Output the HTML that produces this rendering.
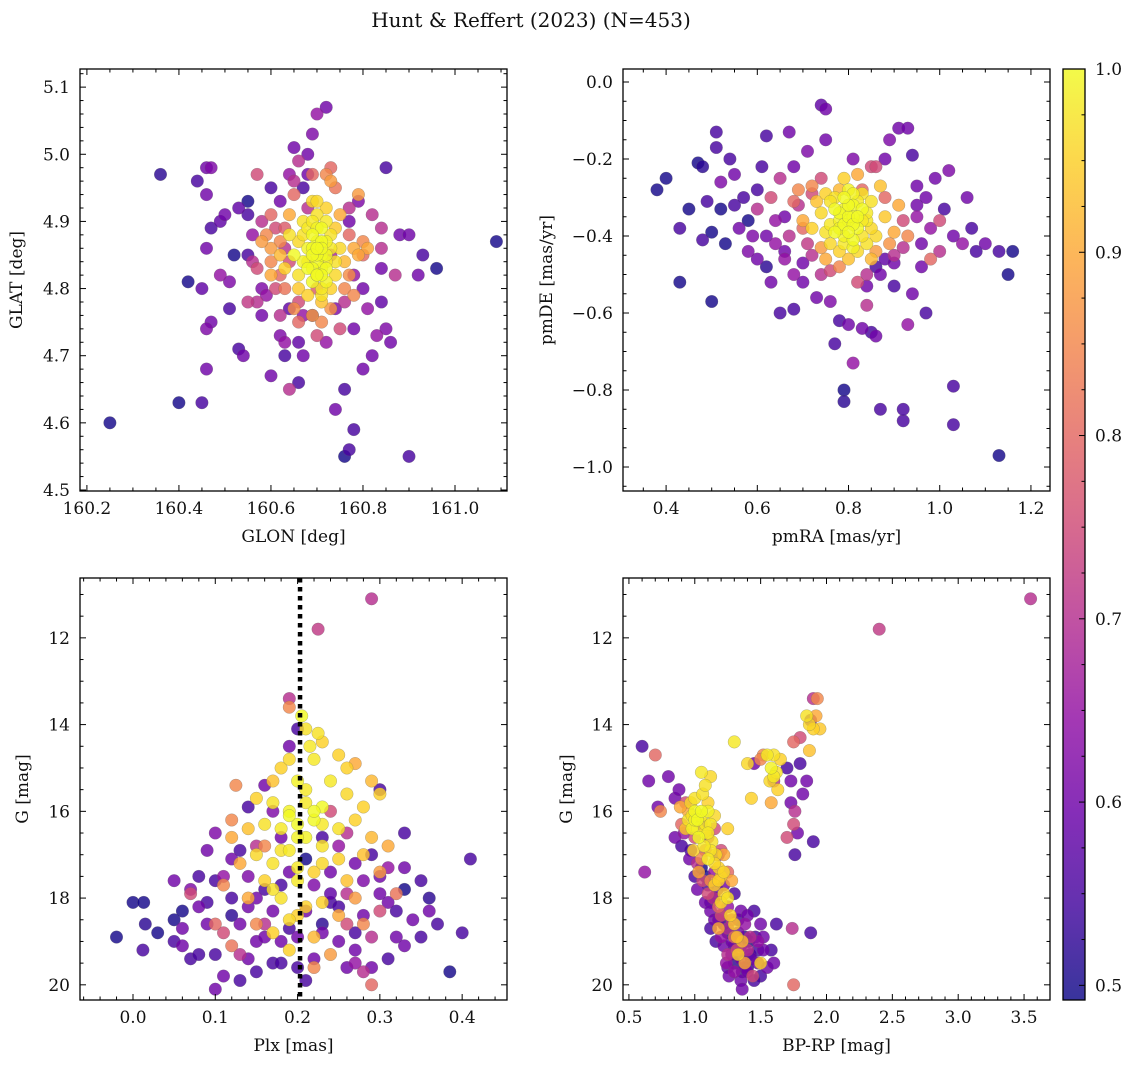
<!DOCTYPE html>
<html><head><meta charset="utf-8"><style>
body{margin:0;background:#fff;}
svg text{font-family:"DejaVu Serif","Liberation Serif",serif;fill:#111;}
</style></head><body>
<svg id="fig" width="1136" height="1068" xmlns="http://www.w3.org/2000/svg">
<text x="531" y="27" font-size="20" text-anchor="middle">Hunt &amp; Reffert (2023) (N=453)</text>
</svg>
<script>
// ---- data: panel 1 (GLON, GLAT, membership prob)
const glon = [160.25,160.36,160.40,160.42,160.44,160.45,160.46,160.47,160.46,160.47,160.46,160.46,160.47,160.46,160.45,160.49,160.49,160.50,160.51,160.52,160.53,160.54,160.55,160.55,160.57,160.57,160.56,160.58,160.59,160.60,160.60,160.61,160.62,160.62,160.63,160.64,160.64,160.64,160.65,160.66,160.67,160.68,160.69,160.70,160.72,160.69,160.72,160.73,160.70,160.69,160.72,160.74,160.76,160.77,160.76,160.78,160.80,160.78,160.80,160.81,160.80,160.82,160.83,160.84,160.85,160.86,160.85,160.84,160.84,160.87,160.88,160.90,160.90,160.92,160.93,160.96,161.09,160.79,160.77,160.79,160.78,160.76,160.53,160.58,160.58,160.55,160.62,160.63,160.66,160.67,160.74,160.73,160.63,160.61,160.60,160.62,160.68,160.66,160.55,160.51,160.70,160.66,
160.70,160.71,160.69,160.68,160.72,160.70,160.73,160.67,160.69,160.71,160.66,160.74,160.68,160.71,160.70,160.72,160.69,160.66,160.64,160.65,160.75,160.76,160.73,160.68,160.71,160.66,160.63,160.74,160.70,160.72,160.67,160.64,160.78,160.62,160.69,160.73,160.76,160.60,160.75,160.65,160.71,160.69,160.72,
160.58,160.60,160.63,160.79,160.80,160.77,160.65,160.74,160.71,160.66,160.77,160.63,
160.70,160.71,160.69,160.72,160.70,160.68,160.73,160.71,160.69,160.70,160.72,160.68,160.71,160.74,160.67,160.70,160.69,160.72,160.71,160.70,
160.60,160.57,160.62,160.78,160.82,160.81,160.65,160.75,160.73,160.67,160.59,160.64,160.77,160.68,160.56,160.84];
const glat = [4.60,4.97,4.63,4.81,4.96,4.63,4.98,4.98,4.94,4.89,4.86,4.74,4.75,4.68,4.80,4.82,4.90,4.91,4.77,4.85,4.71,4.70,4.91,4.93,4.78,4.97,4.84,4.76,4.88,4.82,4.67,4.80,4.93,4.73,4.72,4.77,4.65,4.97,5.01,4.99,4.95,5.00,5.03,5.06,5.07,4.97,4.97,4.96,4.73,4.76,4.72,4.62,4.65,4.56,4.55,4.59,4.68,4.74,4.80,4.86,4.85,4.70,4.73,4.78,4.74,4.72,4.98,4.89,4.83,4.82,4.88,4.88,4.55,4.82,4.85,4.83,4.87,4.93,4.90,4.94,4.82,4.78,4.92,4.90,4.80,4.78,4.82,4.70,4.66,4.76,4.77,4.85,4.86,4.89,4.95,4.87,4.92,4.72,4.85,4.81,4.80,4.78,
4.84,4.85,4.83,4.86,4.83,4.87,4.86,4.84,4.81,4.80,4.82,4.84,4.89,4.89,4.91,4.92,4.93,4.87,4.88,4.85,4.86,4.84,4.80,4.79,4.78,4.80,4.83,4.89,4.82,4.87,4.90,4.91,4.86,4.85,4.76,4.77,4.80,4.86,4.91,4.77,4.82,4.88,4.85,
4.87,4.84,4.80,4.85,4.87,4.88,4.94,4.95,4.75,4.75,4.82,4.89,
4.85,4.83,4.86,4.84,4.89,4.83,4.88,4.87,4.90,4.82,4.81,4.84,4.86,4.82,4.88,4.93,4.85,4.90,4.79,4.86,
4.91,4.83,4.76,4.79,4.91,4.77,4.96,4.74,4.98,4.70,4.79,4.84,4.92,4.97,4.88,4.86];
const prob1 = [.5,.52,.5,.5,.55,.55,.6,.62,.6,.55,.6,.62,.6,.6,.58,.65,.58,.6,.55,.5,.55,.6,.55,.5,.7,.75,.7,.6,.85,.9,.6,.75,.6,.62,.65,.58,.7,.65,.6,.7,.55,.6,.62,.65,.6,.8,.85,.88,.75,.55,.65,.6,.55,.55,.5,.55,.6,.6,.6,.9,.8,.6,.65,.58,.62,.6,.55,.7,.6,.7,.6,.6,.55,.6,.55,.5,.5,.62,.6,.88,.65,.7,.58,.7,.62,.72,.8,.55,.55,.65,.62,.68,.7,.75,.55,.85,.7,.58,.55,.62,.78,.75,
1,1,1,.99,1,1,.98,.99,1,.98,.97,.97,.98,1,.97,.95,.96,.96,.97,1,.96,.92,.95,.95,.93,.94,.95,.94,1,.99,.97,.9,.9,.92,.88,.87,.85,.88,.9,.86,1,1,1,
.88,.85,.82,.9,.85,.8,.8,.82,.85,.8,.86,.78,
1,.99,1,.98,.99,1,.97,1,.98,1,.99,.97,1,.96,.97,.96,1,.98,.97,1,
.8,.75,.7,.85,.7,.65,.7,.75,.8,.6,.65,.75,.7,.6,.65,.7];

// ---- panel 2 (pmRA, pmDE)
const pmra = [0.38,0.40,0.43,0.43,0.45,0.47,0.48,0.49,0.48,0.50,0.50,0.51,0.51,0.52,0.52,0.53,0.54,0.55,0.56,0.57,0.58,0.58,0.59,0.60,0.60,0.61,0.62,0.62,0.63,0.63,0.64,0.65,0.65,0.66,0.67,0.68,0.68,0.68,0.70,0.70,0.71,0.72,0.72,0.73,0.74,0.75,0.75,0.76,0.76,0.77,0.78,0.79,0.79,0.80,0.81,0.81,0.82,0.83,0.84,0.85,0.86,0.87,0.87,0.88,0.89,0.90,0.91,0.92,0.92,0.93,0.93,0.94,0.94,0.95,0.96,0.97,0.98,0.99,1.00,1.01,1.02,1.03,1.03,1.03,1.05,1.06,1.07,1.08,1.10,1.13,1.13,1.15,1.16,0.96,0.92,0.90,0.88,0.86,0.84,0.66,0.64,0.69,0.67,0.95,0.97,0.85,0.83,0.74,0.71,1.00,0.98,0.55,0.60,
0.80,0.78,0.82,0.79,0.81,0.84,0.76,0.77,0.83,0.80,0.86,0.74,0.78,0.82,0.88,0.72,0.75,0.85,0.80,0.76,0.84,0.79,0.87,0.73,0.90,0.81,0.79,0.83,0.77,0.85,0.75,0.70,0.91,0.82,0.86,0.78,0.74,0.89,0.69,0.93,0.78,0.81,
0.80,0.79,0.81,0.82,0.78,0.77,0.83,0.80,0.84,0.76,0.81,0.79,0.82,0.78,0.80,0.85,0.75,0.83,0.79,0.81,
0.68,0.72,0.88,0.92,0.66,0.74,0.90,0.86,0.62,0.95,0.70,0.84];
const pmde = [-0.28,-0.25,-0.52,-0.38,-0.33,-0.21,-0.22,-0.31,-0.41,-0.39,-0.57,-0.13,-0.17,-0.26,-0.33,-0.42,-0.20,-0.32,-0.38,-0.30,-0.44,-0.36,-0.40,-0.28,-0.46,-0.22,-0.14,-0.48,-0.52,-0.30,-0.42,-0.60,-0.25,-0.44,-0.13,-0.59,-0.50,-0.22,-0.38,-0.52,-0.18,-0.29,-0.45,-0.56,-0.06,-0.07,-0.15,-0.57,-0.49,-0.68,-0.62,-0.80,-0.83,-0.63,-0.73,-0.20,-0.52,-0.64,-0.58,-0.65,-0.66,-0.85,-0.50,-0.20,-0.15,-0.53,-0.12,-0.88,-0.85,-0.12,-0.63,-0.19,-0.55,-0.32,-0.42,-0.60,-0.38,-0.25,-0.44,-0.33,-0.23,-0.40,-0.79,-0.89,-0.42,-0.30,-0.38,-0.44,-0.42,-0.44,-0.97,-0.50,-0.44,-0.48,-0.43,-0.47,-0.46,-0.48,-0.50,-0.35,-0.36,-0.32,-0.40,-0.27,-0.30,-0.22,-0.28,-0.25,-0.42,-0.36,-0.46,-0.24,-0.33,
-0.36,-0.34,-0.38,-0.40,-0.32,-0.36,-0.37,-0.30,-0.29,-0.28,-0.40,-0.34,-0.44,-0.44,-0.35,-0.38,-0.29,-0.31,-0.46,-0.42,-0.42,-0.25,-0.27,-0.31,-0.39,-0.35,-0.37,-0.33,-0.39,-0.46,-0.46,-0.36,-0.32,-0.24,-0.44,-0.48,-0.43,-0.42,-0.28,-0.40,-0.28,-0.41,
-0.35,-0.33,-0.37,-0.31,-0.36,-0.33,-0.40,-0.39,-0.34,-0.31,-0.29,-0.42,-0.35,-0.38,-0.32,-0.38,-0.39,-0.36,-0.30,-0.43,
-0.31,-0.27,-0.30,-0.36,-0.46,-0.50,-0.45,-0.22,-0.40,-0.35,-0.47,-0.53];
const prob2 = [.5,.5,.5,.55,.5,.5,.52,.55,.55,.5,.5,.55,.55,.62,.5,.5,.55,.55,.6,.55,.62,.5,.62,.55,.6,.55,.55,.52,.6,.75,.65,.55,.7,.6,.6,.55,.65,.6,.8,.6,.62,.75,.7,.6,.58,.6,.6,.62,.75,.55,.55,.5,.52,.6,.65,.62,.75,.6,.7,.55,.6,.55,.6,.6,.62,.55,.6,.55,.55,.6,.65,.55,.6,.6,.6,.55,.65,.6,.7,.55,.62,.6,.55,.55,.65,.6,.55,.55,.6,.55,.5,.5,.5,.6,.7,.6,.58,.55,.7,.6,.65,.7,.7,.6,.6,.75,.8,.75,.72,.75,.8,.6,.7,
1,1,1,.99,1,.98,.98,.97,.97,.99,.96,.96,.95,.96,.94,.95,.95,.97,.93,.96,.97,.95,.93,.93,.9,1,1,1,1,.92,.9,.9,.9,.9,.88,.85,.88,.87,.85,.85,.92,1,
1,.99,1,.98,.99,1,.97,1,.98,.97,.99,.98,1,.99,1,.96,.97,.98,1,.99,
.8,.85,.8,.75,.65,.7,.7,.75,.6,.65,.6,.6];

// ---- panel 3 (Plx, G)
const plx = [0.29,0.225,0.19,0.19,0.30,0.41,0.40,0.385,0.37,0.36,0.35,0.34,0.33,0.33,0.32,0.31,0.29,0.28,-0.02,0.0,0.013,0.015,0.012,0.05,0.05,0.06,0.07,0.07,0.08,0.08,0.09,0.09,0.10,0.10,0.10,0.11,0.11,0.12,0.12,0.12,0.125,0.13,0.13,0.14,0.14,0.14,0.15,0.15,0.15,0.16,0.16,0.16,0.17,0.17,0.18,0.18,0.19,0.19,0.19,0.20,0.20,0.21,0.21,0.22,0.22,0.23,0.23,0.24,0.24,0.25,0.25,0.26,0.26,0.27,0.27,0.28,0.28,0.29,0.29,0.30,0.30,0.31,0.26,0.24,0.07,0.05,0.13,0.11,0.09,0.35,0.33,0.14,0.18,0.27,0.31,0.06,
0.205,0.21,0.215,0.225,0.23,0.19,0.22,0.25,0.27,0.29,0.18,0.17,0.20,0.24,0.26,0.28,0.15,0.17,0.21,0.23,0.19,0.20,0.22,0.16,0.18,0.25,0.27,0.14,0.12,0.21,0.23,0.19,0.15,0.17,0.25,0.28,0.29,0.22,0.13,0.20,0.16,0.26,0.18,0.23,0.31,0.11,0.14,0.20,0.25,0.17,0.22,0.28,0.19,0.15,0.12,0.30,0.32,0.10,0.27,0.24,0.16,0.23,0.26,0.30,0.22,
0.19,0.21,0.20,0.22,0.18,0.20,0.23,0.17,0.21,0.19,
0.03,0.08,0.12,0.16,0.18,0.21,0.24,0.27,0.30,0.33,0.36,0.10,0.15,0.25,0.29,0.06,0.13,0.20,0.23,0.32,0.26,0.17];
const gmag3 = [11.1,11.8,13.4,13.6,15.5,17.1,18.8,19.7,18.6,18.3,17.6,18.5,16.5,17.3,18.9,19.4,20.0,19.7,18.9,18.1,18.1,18.6,19.2,18.5,19.0,18.7,19.4,17.8,18.2,19.3,18.6,16.9,16.5,17.6,20.1,18.8,19.8,17.1,18.0,16.2,15.4,18.6,19.3,15.9,17.5,18.2,16.8,19.0,19.7,15.4,17.8,18.6,18.3,19.5,16.6,19.0,17.4,18.7,14.5,19.6,14.1,18.3,19.9,19.4,17.7,18.8,16.6,17.4,18.1,19.0,16.8,17.9,18.6,17.2,19.2,18.4,17.6,18.9,17.0,17.9,18.3,17.3,16.5,16.0,17.9,17.6,16.9,17.5,18.1,18.9,19.1,19.4,19.5,19.5,18.1,19.1,
13.8,14.1,14.5,14.2,14.4,14.8,14.8,14.7,14.9,15.3,15.0,15.3,15.3,15.3,15.6,15.9,15.7,15.8,15.8,15.9,16.0,16.3,16.2,16.3,16.4,16.4,16.2,16.4,16.6,16.6,16.8,16.9,17.0,17.2,17.1,17.0,16.6,17.4,17.2,17.6,17.6,17.6,18.0,18.1,16.8,17.7,18.0,18.4,18.4,18.8,18.9,18.6,19.2,18.6,19.1,17.4,17.9,18.6,18.0,19.3,16.8,16.3,15.0,15.6,19.6,
16.1,15.5,16.6,16.0,16.9,17.3,17.2,17.8,18.2,18.5,
18.8,17.5,18.4,18.9,17.7,17.1,17.9,18.8,17.5,17.8,18.0,19.3,18.0,18.2,19.6,18.3,19.9,18.9,18.6,18.3,19.6,16.0];
const prob3 = [.7,.72,.7,.85,.55,.55,.55,.5,.55,.6,.55,.6,.55,.6,.6,.55,.8,.7,.5,.5,.5,.52,.55,.5,.55,.6,.55,.62,.6,.55,.6,.6,.62,.55,.6,.75,.6,.6,.55,.85,.85,.6,.7,.55,.62,.6,.7,.6,.55,.6,.55,.7,.6,.55,.6,.6,.6,.55,.6,.55,.55,.6,.55,.6,.62,.6,.55,.6,.55,.6,.65,.7,.75,.6,.6,.6,.62,.7,.55,.6,.75,.65,.7,.75,.75,.6,.55,.65,.55,.55,.6,.6,.55,.65,.6,.6,
1,.97,.98,.97,.95,.96,.98,.95,.9,.92,.95,.93,.99,.98,.96,.95,.95,.97,.98,1,.99,1,1,.97,.98,.97,.95,.93,.9,.99,.97,.98,.96,.97,.95,.93,.92,.95,.9,.98,.95,.93,.97,.95,.9,.85,.9,.95,.9,.95,.92,.85,.95,.85,.82,.88,.82,.8,.88,.88,.85,.98,.95,.95,.85,
1,.98,.99,1,.97,.98,.96,.97,.95,.96,
.5,.55,.52,.6,.55,.5,.58,.55,.6,.5,.52,.55,.6,.55,.6,.5,.55,.6,.52,.55,.6,.62];

// ---- panel 4 (BP-RP, G)
const bprp = [3.55,2.40,1.90,0.60,0.62,0.65,0.70,0.72,0.74,0.80,0.85,0.85,0.88,0.90,0.92,0.93,0.95,0.97,1.00,1.02,1.05,1.06,1.08,1.10,1.12,1.12,1.14,1.15,1.16,1.18,1.20,1.22,1.24,1.25,1.26,1.28,1.30,1.32,1.33,1.35,1.36,1.38,1.40,1.42,1.44,1.46,1.48,1.50,1.52,1.55,1.58,1.60,1.62,1.74,1.75,1.88,1.10,1.15,1.18,1.22,1.25,1.28,1.30,1.35,1.38,1.40,1.42,1.45,1.50,1.35,1.25,1.20,1.30,1.40,1.48,1.05,1.15,1.20,1.00,1.08,1.12,1.02,0.96,0.90,1.25,1.70,1.73,1.75,1.76,1.70,1.73,1.76,1.78,1.80,1.82,1.85,1.75,1.80,1.90,1.92,1.88,1.93,1.58,1.52,1.45,1.50,1.60,
1.00,1.02,0.98,1.05,1.08,1.03,0.95,1.10,1.12,1.07,1.00,0.97,1.06,1.10,1.15,0.93,1.13,1.16,1.18,1.10,1.20,1.15,1.22,1.25,1.20,1.27,1.30,1.32,1.33,1.36,1.50,1.30,1.40,1.43,1.55,1.60,1.58,1.60,1.62,1.65,1.57,1.63,1.85,1.87,1.90,1.95,1.87,1.08,1.05,1.12,0.99,1.03,1.18,1.38,1.22,0.89,1.28,1.25,
1.05,1.10,1.15,1.20,1.25,1.30,1.35,1.40,1.45,1.22,1.28,1.33,1.38,1.43,1.18,1.12,1.08,1.48,1.52,1.30,1.25,1.36,1.41,1.17,
1.02,1.05,1.08,1.00,1.12,1.15,1.18,1.22,1.10,0.98];
const gmag4 = [11.1,11.8,13.4,14.5,17.4,15.3,14.7,15.9,16.0,15.2,15.7,16.6,15.5,16.3,16.5,15.8,16.0,16.9,17.5,17.8,17.1,17.6,18.1,17.9,18.3,18.7,18.0,18.5,19.0,18.2,18.9,19.1,19.5,18.7,19.8,19.3,19.7,19.2,18.8,19.9,20.1,19.6,19.7,19.3,19.8,18.9,19.5,19.8,18.9,19.6,19.2,19.5,18.6,18.7,20.0,18.8,16.6,17.4,17.0,17.7,18.2,18.5,17.9,18.3,18.6,18.4,18.9,18.3,18.6,19.1,19.3,18.4,18.9,19.2,19.0,16.3,16.4,16.9,16.6,16.9,17.6,17.2,17.1,16.8,17.4,15.0,15.3,16.3,16.0,16.6,15.8,17.0,16.5,14.9,15.6,15.3,14.4,14.3,16.7,13.8,13.9,13.4,15.8,14.7,14.9,14.8,15.3,
16.0,16.2,16.4,16.0,16.3,16.6,16.2,16.0,16.3,16.8,15.7,15.8,15.6,15.8,16.1,16.4,16.7,17.0,17.3,17.1,17.5,17.7,17.9,18.0,18.1,18.4,18.6,18.9,19.3,19.0,19.5,14.4,14.9,15.7,14.7,14.7,15.0,15.2,15.1,14.8,15.3,15.5,13.8,14.0,14.1,14.1,14.6,15.4,15.1,15.2,16.9,17.4,18.7,19.5,17.0,15.9,17.6,16.4,
17.3,17.7,18.0,18.4,18.8,19.1,19.4,19.6,19.9,18.6,19.0,18.5,18.9,19.4,18.5,18.1,17.5,19.2,19.2,19.5,19.6,19.7,19.0,17.8,
16.4,16.1,16.5,16.2,16.9,17.2,17.6,17.4,16.5,16.1];
const prob4 = [.7,.72,.7,.55,.65,.6,.8,.6,.85,.6,.6,.6,.6,.8,.65,.75,.9,.55,.55,.6,.85,.75,.6,.75,.6,.55,.7,.6,.55,.8,.65,.6,.65,.7,.6,.6,.65,.75,.6,.6,.6,.6,.6,.55,.75,.55,.6,.55,.6,.6,.55,.6,.55,.7,.8,.55,.7,.65,.6,.6,.65,.7,.55,.6,.65,.6,.7,.55,.6,.6,.7,.75,.8,.7,.65,.6,.75,.75,.75,.8,.85,.7,.6,.55,.8,.55,.6,.75,.7,.75,.6,.55,.6,.55,.6,.6,.8,.75,.55,.9,.6,.85,.9,.85,.6,.85,.7,
1,1,.99,1,.98,1,.97,.99,.98,.98,.97,.96,.97,.95,.96,.93,.97,.96,.95,.98,.94,.95,.95,.97,.96,.95,.94,.93,.95,.92,.95,.98,.96,.95,.98,.97,.99,.98,.97,.95,.96,.95,.97,.96,.95,.94,.93,.97,.98,.96,.95,.9,.9,.9,.9,.9,.9,.95,
.5,.55,.52,.58,.5,.55,.6,.52,.55,.5,.6,.55,.52,.58,.6,.55,.5,.55,.6,.52,.58,.55,.5,.6,
.97,.98,.96,.99,.97,.96,.95,.96,.98,.97];

// ---- colorbar ticks
const cbTicks = [0.5,0.6,0.7,0.8,0.9,1.0];
const VMIN = 0.492, VMAX = 1.0;

const NS = 'http://www.w3.org/2000/svg';
const svg = document.getElementById('fig');
function mk(tag, attrs, parent){const e=document.createElementNS(NS,tag);for(const k in attrs)e.setAttribute(k,attrs[k]);(parent||svg).appendChild(e);return e;}

const plasma=[[13,8,135],[65,4,157],[106,0,168],[143,13,164],[177,42,144],[204,71,120],[225,100,98],[242,132,75],[252,166,54],[252,206,37],[240,249,33]];
function cmap(v){let t=(v-VMIN)/(VMAX-VMIN);t=Math.max(0,Math.min(1,t))*10;const i=Math.min(9,Math.floor(t)),f=t-i;const a=plasma[i],b=plasma[i+1];return 'rgb('+[0,1,2].map(k=>Math.round(a[k]+(b[k]-a[k])*f)).join(',')+')';}

function fmt(v,d){return (v<0?'\u2212':'')+Math.abs(v).toFixed(d);}

function panel(cfg){
  const {name,L,R,T,B,x0,x1,y0,y1,xs,ys,ps,xMaj,xMin,yMaj,yMin,xd,yd,xlab,ylab,ylabX,inv} = cfg;
  const g = mk('g',{});
  
  
  const sx=v=>L+(v-x0)/(x1-x0)*(R-L);
  const sy=inv?(v=>T+(v-y0)/(y1-y0)*(B-T)):(v=>B-(v-y0)/(y1-y0)*(B-T));
  const idx=ps.map((p,i)=>i).sort((a,b)=>ps[a]-ps[b]);
  const pg=mk('g',{},g);
  
  
  for(const i of idx){
    const c=mk('circle',{cx:sx(xs[i]).toFixed(1),cy:sy(ys[i]).toFixed(1),r:6.3,fill:cmap(ps[i]),'fill-opacity':0.82,stroke:'#666','stroke-width':0.4,'stroke-opacity':0.6},pg);
    
    
  }
  if(cfg.extra) cfg.extra(g,sx,sy);
  const fr=mk('rect',{x:L,y:T,width:R-L,height:B-T,fill:'none',stroke:'#000','stroke-width':1.3},g);
  
  
  const tk=mk('g',{stroke:'#000','stroke-width':1},g);
  const xmn=Math.min(x0,x1),xmx=Math.max(x0,x1),ymn=Math.min(y0,y1),ymx=Math.max(y0,y1);
  const eps=1e-9;
  for(let v=Math.ceil(xmn/xMin-eps)*xMin; v<=xmx+eps; v+=xMin){const X=sx(v);const maj=Math.abs(v/xMaj-Math.round(v/xMaj))<1e-6;const l=maj?6:3.5;
    mk('line',{x1:X,x2:X,y1:B,y2:B-l},tk);mk('line',{x1:X,x2:X,y1:T,y2:T+l},tk);
    if(maj){const t=mk('text',{x:X,y:B+23,'font-size':17,'text-anchor':'middle',stroke:'none'},g);t.textContent=fmt(Math.round(v/xMaj)*xMaj,xd);
      
      }}
  for(let v=Math.ceil(ymn/yMin-eps)*yMin; v<=ymx+eps; v+=yMin){const Y=sy(v);const maj=Math.abs(v/yMaj-Math.round(v/yMaj))<1e-6;const l=maj?6:3.5;
    mk('line',{y1:Y,y2:Y,x1:L,x2:L+l},tk);mk('line',{y1:Y,y2:Y,x1:R,x2:R-l},tk);
    if(maj){const t=mk('text',{x:L-10,y:Y+6,'font-size':17,'text-anchor':'end',stroke:'none'},g);t.textContent=fmt(Math.round(v/yMaj)*yMaj,yd);
      
      }}
  const xl=mk('text',{x:(L+R)/2,y:B+51,'font-size':17,'text-anchor':'middle'},g);xl.textContent=xlab;
  
  
  const yl=mk('text',{x:ylabX,y:(T+B)/2,'font-size':17,'text-anchor':'middle',transform:'rotate(-90 '+ylabX+' '+((T+B)/2)+')'},g);yl.textContent=ylab;
  
  
}

panel({name:'glon-glat-panel',L:80,R:507,T:69,B:491,x0:160.185,x1:161.113,y0:4.4985,y1:5.127,xs:glon,ys:glat,ps:prob1,xMaj:0.2,xMin:0.05,yMaj:0.1,yMin:0.02,xd:1,yd:1,xlab:'GLON [deg]',ylab:'GLAT [deg]',ylabX:22});
panel({name:'pm-panel',L:623,R:1050,T:69,B:491,x0:0.3055,x1:1.2418,y0:-1.0623,y1:0.0338,xs:pmra,ys:pmde,ps:prob2,xMaj:0.2,xMin:0.05,yMaj:0.2,yMin:0.05,xd:1,yd:1,xlab:'pmRA [mas/yr]',ylab:'pmDE [mas/yr]',ylabX:552});
panel({name:'plx-g-panel',L:80,R:507,T:578,B:1000,x0:-0.0644,x1:0.4545,y0:10.62,y1:20.35,inv:true,xs:plx,ys:gmag3,ps:prob3,xMaj:0.1,xMin:0.02,yMaj:2,yMin:0.5,xd:1,yd:0,xlab:'Plx [mas]',ylab:'G [mag]',ylabX:28,
  extra:(g,sx,sy)=>{const l=mk('line',{x1:sx(0.203),x2:sx(0.203),y1:578,y2:1000,stroke:'#000','stroke-width':4.5,'stroke-dasharray':'4.5,4.5'},g);
    
    }});
panel({name:'cmd-panel',L:623,R:1050,T:578,B:1000,x0:0.455,x1:3.697,y0:10.62,y1:20.35,inv:true,xs:bprp,ys:gmag4,ps:prob4,xMaj:0.5,xMin:0.1,yMaj:2,yMin:0.5,xd:1,yd:0,xlab:'BP-RP [mag]',ylab:'G [mag]',ylabX:572});

const cb=mk('g',{});


const defs=mk('defs',{},svg);
const gr=mk('linearGradient',{id:'pl',x1:0,y1:1,x2:0,y2:0},defs);
for(let i=0;i<=10;i++){mk('stop',{offset:(i/10),'stop-color':cmap(VMIN+(VMAX-VMIN)*i/10),'stop-opacity':0.82},gr);}
const CT=69,CB=1000,CL=1063,CR=1085;
mk('rect',{x:CL,y:CT,width:CR-CL,height:CB-CT,fill:'url(#pl)',stroke:'#000','stroke-width':1.3},cb);
const cy=v=>CB-(v-VMIN)/(VMAX-VMIN)*(CB-CT);
for(let v=0.5;v<=1.0001;v+=0.025){const Y=cy(v);const maj=Math.abs(v*10-Math.round(v*10))<1e-6;mk('line',{x1:CR,x2:CR-(maj?6:3.5),y1:Y,y2:Y,stroke:'#000','stroke-width':1},cb);}
for(const v of cbTicks){const t=mk('text',{x:CR+10,y:cy(v)+6,'font-size':17},cb);t.textContent=v.toFixed(1);
  
  }
</script>
</body></html>
